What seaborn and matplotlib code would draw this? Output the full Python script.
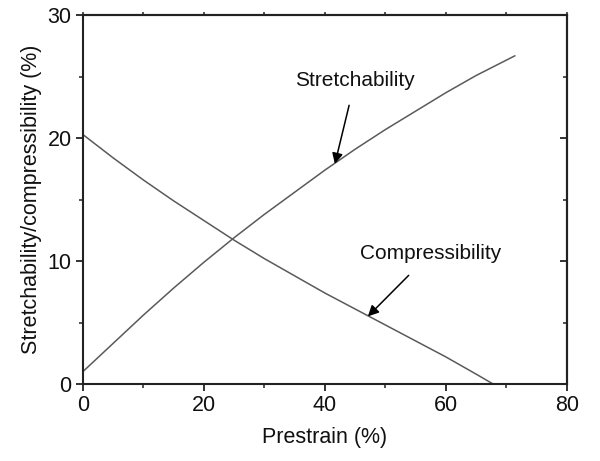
import pandas as pd
import matplotlib
matplotlib.use("Agg")
import matplotlib.pyplot as plt
import seaborn as sns
from matplotlib.ticker import MultipleLocator

# DATOS

prestrain_str = [0, 5, 10, 15, 20, 25, 30, 35, 40, 45, 50, 55, 60, 65, 71.4]
stretchability = [1.0, 3.3, 5.6, 7.8, 9.9, 11.9, 13.8, 15.6, 17.4,
                  19.1, 20.7, 22.2, 23.7, 25.1, 26.7]

prestrain_comp = [0, 5, 10, 15, 20, 25, 30, 35, 40, 45, 50, 55, 60, 65, 67.8]
compressibility = [20.3, 18.4, 16.6, 14.9, 13.3, 11.7, 10.2, 8.8, 7.4,
                   6.1, 4.8, 3.5, 2.2, 0.8, 0.0]

df = pd.concat([
    pd.DataFrame({"prestrain": prestrain_str, "valor": stretchability,
                  "serie": "Stretchability"}),
    pd.DataFrame({"prestrain": prestrain_comp, "valor": compressibility,
                  "serie": "Compressibility"}),
])

# ESTILO

sns.set_style("ticks")
plt.rcParams["font.family"] = ["Liberation Sans", "DejaVu Sans"]
fs = 15.5

fig = plt.figure(figsize=(6, 4.61), dpi=100)
ax = fig.add_axes([0.138, 0.167, 0.807, 0.8])

sns.lineplot(
    data=df,
    x="prestrain",
    y="valor",
    units="serie",
    estimator=None,
    color="#5a5a5a",
    linewidth=1.1,
    ax=ax,
    legend=False
)

ax.set_xlim(0, 80)
ax.set_ylim(0, 30)
ax.xaxis.set_major_locator(MultipleLocator(20))
ax.xaxis.set_minor_locator(MultipleLocator(10))
ax.yaxis.set_major_locator(MultipleLocator(10))
ax.yaxis.set_minor_locator(MultipleLocator(5))

ax.tick_params(which="major", direction="out", length=5, width=1.3,
               labelsize=fs, color="#222222", labelcolor="#111111", pad=3)
ax.tick_params(which="minor", direction="out", length=3, width=1.1,
               color="#222222")

# ticks superiores y derechos
top = ax.secondary_xaxis("top")
top.xaxis.set_major_locator(MultipleLocator(20))
top.xaxis.set_minor_locator(MultipleLocator(10))
top.tick_params(which="both", direction="out", length=2.5, width=1.1,
                labeltop=False, color="#222222")
right = ax.secondary_yaxis("right")
right.yaxis.set_major_locator(MultipleLocator(10))
right.yaxis.set_minor_locator(MultipleLocator(5))
right.tick_params(which="major", direction="in", length=5, width=1.3,
                  labelright=False, color="#222222")
right.tick_params(which="minor", direction="in", length=3, width=1.1,
                  color="#222222")
for s in ax.spines.values():
    s.set_linewidth(1.5)
    s.set_color("#222222")
    s.set_visible(True)
top.spines["top"].set_linewidth(1.5)
right.spines["right"].set_linewidth(1.5)

ax.set_xlabel("Prestrain (%)", fontsize=fs, labelpad=8, color="#111111")
ax.set_ylabel("Stretchability/compressibility (%)", fontsize=fs,
              labelpad=4, color="#111111")

# ANOTACIONES

ax.annotate("Stretchability", xy=(41.65, 17.9), xytext=(45, 24.7),
            fontsize=15, ha="center", va="center", color="#111111",
            arrowprops=dict(arrowstyle="-|>", color="black", lw=1.1,
                            shrinkA=9, shrinkB=0, mutation_scale=16))
ax.annotate("Compressibility", xy=(47.1, 5.5), xytext=(57.4, 10.6),
            fontsize=15, ha="center", va="center", color="#111111",
            arrowprops=dict(arrowstyle="-|>", color="black", lw=1.1,
                            shrinkA=9, shrinkB=0, mutation_scale=16))

plt.savefig("out.png", dpi=100)
